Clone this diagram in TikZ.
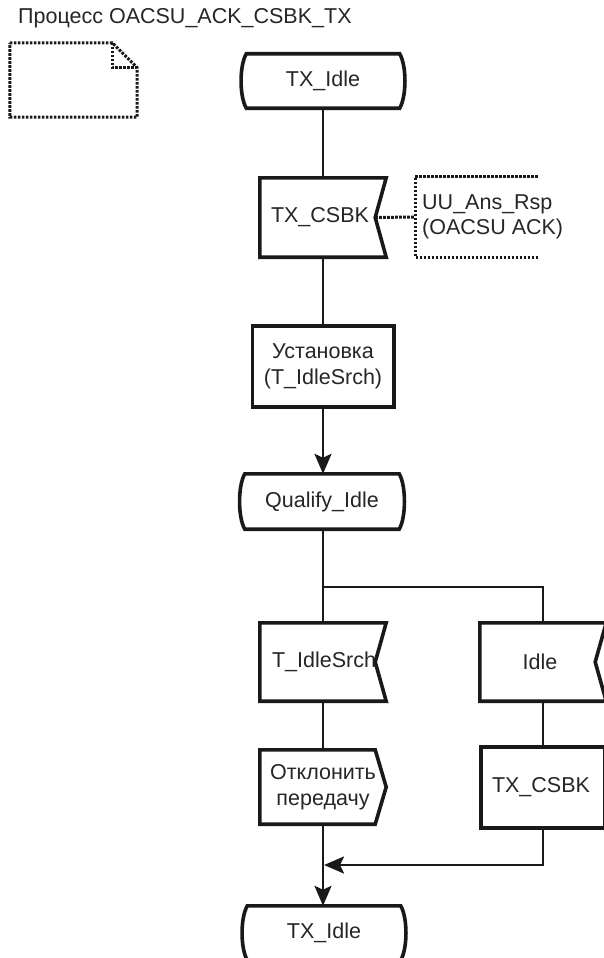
\documentclass[tikz,border=0pt]{standalone}
\usepackage{fontspec}
\setmainfont{Liberation Sans}
\usetikzlibrary{arrows.meta}
\newcommand\stateoutline[1]{%
  \draw[boxline] ([xshift=5pt]#1.north west) -- ([xshift=-5pt]#1.north east)
    .. controls ([xshift=2pt,yshift=-12pt]#1.north east) and ([xshift=2pt,yshift=12pt]#1.south east) .. ([xshift=-5pt]#1.south east)
    -- ([xshift=5pt]#1.south west)
    .. controls ([xshift=-2pt,yshift=12pt]#1.south west) and ([xshift=-2pt,yshift=-12pt]#1.north west) .. ([xshift=5pt]#1.north west) -- cycle;}
\newcommand\recvoutline[1]{%
  \draw[boxline] (#1.north west) -- (#1.north east) -- ([xshift=-11pt]#1.east) -- (#1.south east) -- (#1.south west) -- cycle;}
\newcommand\sendoutline[1]{%
  \draw[boxline] (#1.north west) -- ([xshift=-11pt]#1.north east) -- (#1.east) -- ([xshift=-11pt]#1.south east) -- (#1.south west) -- cycle;}
\begin{document}
\begin{tikzpicture}[x=1pt,y=-1pt,
  every node/.style={font=\fontsize{21.5pt}{25.5pt}\selectfont, text=black!85},
  sym/.style={rectangle, draw=none, inner sep=0pt, align=center},
  boxline/.style={line width=3.6pt, line join=miter, draw=black!90},
  conn/.style={line width=2.6pt, draw=black!90},
  arr/.style={conn, -{Stealth[length=20pt,width=17pt,inset=4pt]}},
  dots/.style={line width=3pt, dash pattern=on 2.6pt off 1.4pt, draw=black!90}]
\useasboundingbox (0,0) rectangle (603,958);
\fill[white] (0,0) rectangle (603,958);

% title
\node[anchor=base west, inner sep=0pt] (title) at (18,24) {Процесс OACSU\_ACK\_CSBK\_TX};

% note symbol
\node[sym, minimum width=127pt, minimum height=74pt] (note) at (73.5,80) {};
\draw[dots] (note.north west) -- ([xshift=-25pt]note.north east) -- ([yshift=-25pt]note.north east) -- (note.south east) -- (note.south west) -- cycle;
\draw[dots] ([xshift=-25pt]note.north east) -- ([xshift=-25pt,yshift=-25pt]note.north east) -- ([yshift=-25pt]note.north east);

% nodes
\node[sym, minimum width=163pt, minimum height=54pt] (txa) at (323,81) {TX\_Idle};
\node[sym, minimum width=126pt, minimum height=79pt] (csa) at (323,217.5) {TX\_CSBK\hspace*{6pt}};
\node[sym, minimum height=80pt, align=left, inner xsep=7pt, anchor=west] (cm) at (415,217) {UU\_Ans\_Rsp\\(OACSU ACK)};
\node[sym, minimum width=141pt, minimum height=81pt] (ust) at (323,366.5) {Установка\\(T\_IdleSrch)};
\node[sym, minimum width=164pt, minimum height=55pt] (qual) at (322,501.5) {Qualify\_Idle};
\node[sym, minimum width=126pt, minimum height=78pt] (tsr) at (323,662) {\hspace*{2pt}T\_IdleSrch};
\node[sym, minimum width=126pt, minimum height=78pt] (idle) at (543,662) {Idle\hspace*{6pt}};
\node[sym, minimum width=126pt, minimum height=74pt] (otk) at (323,787) {Отклонить\\передачу};
\node[sym, minimum width=124pt, minimum height=81pt] (csb) at (543,787.5) {TX\_CSBK\hspace*{4pt}};
\node[sym, minimum width=163pt, minimum height=54pt] (txb) at (324,933) {TX\_Idle};

% outlines
\stateoutline{txa}
\recvoutline{csa}
\draw[boxline] (ust.north west) rectangle (ust.south east);
\stateoutline{qual}
\recvoutline{tsr}
\recvoutline{idle}
\sendoutline{otk}
\draw[boxline] (csb.north west) rectangle (csb.south east);
\stateoutline{txb}

% comment bracket and its link
\draw[dots] ([xshift=123pt]cm.north west) -- (cm.north west) -- (cm.south west) -- ([xshift=123pt]cm.south west);
\draw[dots] ([xshift=-11pt]csa.east) -- (cm.west);

% connectors
\coordinate (br) at (323,587);
\coordinate (mrg) at (323,865);
\draw[conn] (txa.south -| 323,0) -- (csa.north);
\draw[conn] (csa.south) -- (ust.north);
\draw[arr] (ust.south) -- (ust.south |- qual.north);
\draw[conn] (qual.south -| br) -- (tsr.north);
\draw[conn] (br) -| (idle.north);
\draw[conn] (tsr.south) -- (otk.north);
\draw[conn] (idle.south) -- (csb.north);
\draw[arr] (csb.south) |- ([xshift=1pt]mrg);
\draw[arr] (otk.south) -- (otk.south |- txb.north);
\end{tikzpicture}
\end{document}
